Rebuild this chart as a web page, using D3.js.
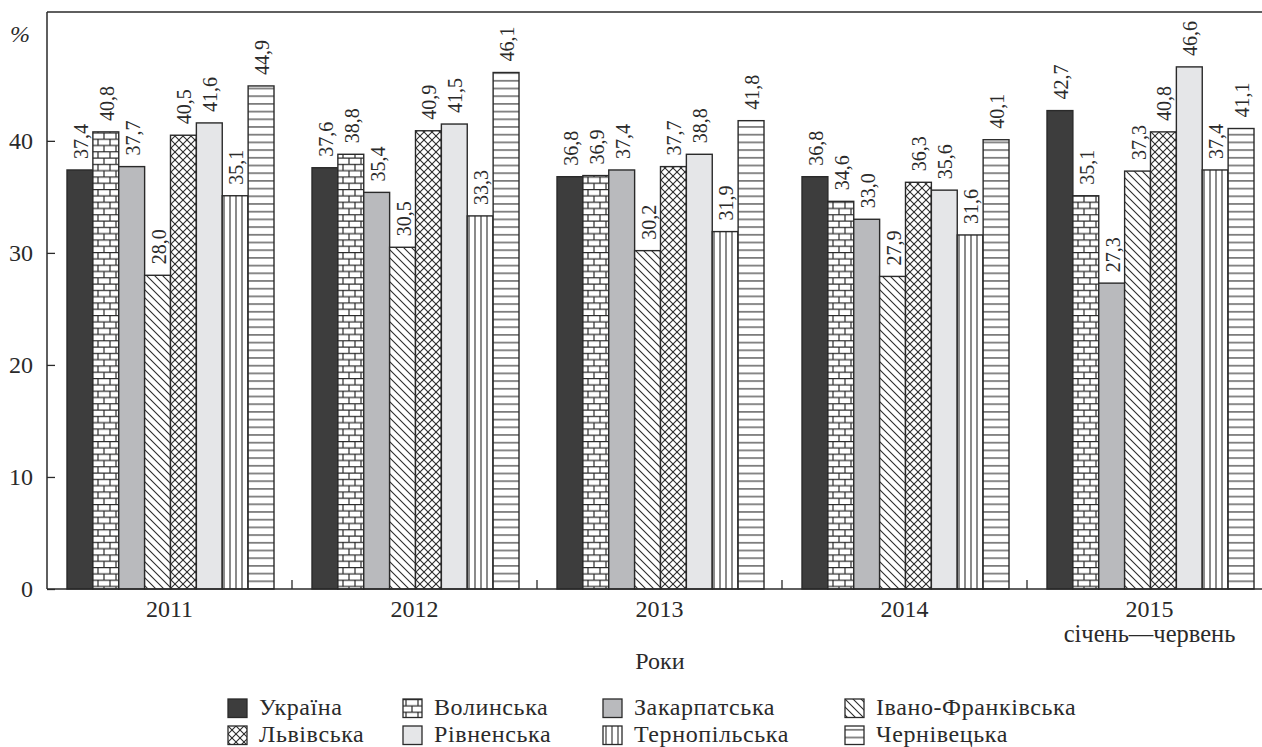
<!DOCTYPE html>
<html>
<head>
<meta charset="utf-8">
<script src="https://cdn.jsdelivr.net/npm/d3@7"></script>
<style>
  html, body { margin: 0; padding: 0; background: #fff; }
  svg { display: block; }
  text { font-family: "Liberation Serif", "Times New Roman", "DejaVu Serif", serif; fill: #2a2a2a; }
</style>
</head>
<body>
<svg id="chart" width="1262" height="747"></svg>
<script>
const years = ["2011", "2012", "2013", "2014", "2015"];
const yearSub = ["", "", "", "", "січень—червень"];
const regions = ["Україна", "Волинська", "Закарпатська", "Івано-Франківська",
                 "Львівська", "Рівненська", "Тернопільська", "Чернівецька"];
const v2011 = [37.4, 40.8, 37.7, 28.0, 40.5, 41.6, 35.1, 44.9];
const v2012 = [37.6, 38.8, 35.4, 30.5, 40.9, 41.5, 33.3, 46.1];
const v2013 = [36.8, 36.9, 37.4, 30.2, 37.7, 38.8, 31.9, 41.8];
const v2014 = [36.8, 34.6, 33.0, 27.9, 36.3, 35.6, 31.6, 40.1];
const v2015 = [42.7, 35.1, 27.3, 37.3, 40.8, 46.6, 37.4, 41.1];
const values = [v2011, v2012, v2013, v2014, v2015];
const yTicks = [0, 10, 20, 30, 40];
const yLabel = "%";
const xLabel = "Роки";

const svg = d3.select("#chart");
const ink = "#2a2a2a";
const mLeft = 47, mTop = 12, mBottom = 589, mRight = 1272;

const y = d3.scaleLinear().domain([0, 51.5]).range([mBottom, mTop]);
const x0 = d3.scaleBand().domain(years).range([mLeft, mRight]).padding(0);
const x1 = d3.scaleBand().domain(regions).range([20, 227]).padding(0);

// patterns
const defs = svg.append("defs");
function pat(id, w, h, draw) {
  const p = defs.append("pattern").attr("id", id).attr("patternUnits", "userSpaceOnUse")
    .attr("width", w).attr("height", h);
  p.append("rect").attr("width", w).attr("height", h).attr("fill", "#fff");
  draw(p);
}
pat("brick", 12, 12.6, p => {
  const g = p.append("g").attr("stroke", ink).attr("stroke-width", 1.2);
  g.append("line").attr("x1", 0).attr("x2", 12).attr("y1", 0.6).attr("y2", 0.6);
  g.append("line").attr("x1", 0).attr("x2", 12).attr("y1", 6.9).attr("y2", 6.9);
  g.append("line").attr("x1", 3).attr("x2", 3).attr("y1", 0.6).attr("y2", 6.9);
  g.append("line").attr("x1", 9).attr("x2", 9).attr("y1", 6.9).attr("y2", 12.6);
});
pat("diag", 8, 8, p => {
  const g = p.append("g").attr("stroke", ink).attr("stroke-width", 1.1);
  g.append("line").attr("x1", 0).attr("y1", 0).attr("x2", 8).attr("y2", 8);
  g.append("line").attr("x1", -4).attr("y1", 4).attr("x2", 4).attr("y2", 12);
  g.append("line").attr("x1", 4).attr("y1", -4).attr("x2", 12).attr("y2", 4);
});
pat("cross", 8, 8, p => {
  const g = p.append("g").attr("stroke", ink).attr("stroke-width", 1.1);
  g.append("line").attr("x1", 0).attr("y1", 0).attr("x2", 8).attr("y2", 8);
  g.append("line").attr("x1", 8).attr("y1", 0).attr("x2", 0).attr("y2", 8);
});
pat("vert", 6, 6, p => {
  p.append("line").attr("x1", 3).attr("x2", 3).attr("y1", 0).attr("y2", 6)
    .attr("stroke", ink).attr("stroke-width", 1.1);
});
pat("horiz", 7.7, 7.7, p => {
  p.append("line").attr("x1", 0).attr("x2", 7.7).attr("y1", 3.8).attr("y2", 3.8)
    .attr("stroke", ink).attr("stroke-width", 1.1);
});

const fills = ["#3d3d3d", "url(#brick)", "#b9babd", "url(#diag)",
               "url(#cross)", "#e5e6e8", "url(#vert)", "url(#horiz)"];
const color = d3.scaleOrdinal().domain(regions).range(fills);

// bars
const groups = svg.append("g").selectAll("g").data(years).join("g")
  .attr("transform", d => `translate(${x0(d)},0)`);

groups.selectAll("rect").data((d, i) => regions.map((r, j) => ({ r, v: values[i][j] })))
  .join("rect")
  .attr("x", d => x1(d.r))
  .attr("y", d => y(d.v))
  .attr("width", x1.bandwidth())
  .attr("height", d => y(0) - y(d.v))
  .attr("fill", d => color(d.r))
  .attr("stroke", ink)
  .attr("stroke-width", 1.4);

groups.selectAll("text.val").data((d, i) => regions.map((r, j) => ({ r, v: values[i][j] })))
  .join("text").attr("class", "val")
  .attr("transform", d => `translate(${x1(d.r) + x1.bandwidth() / 2 + 1},${y(d.v) - 11}) rotate(-90)`)
  .attr("text-anchor", "start")
  .attr("dominant-baseline", "central")
  .attr("font-size", 20)
  .text(d => d.v.toFixed(1).replace(".", ","));

// frame top
svg.append("line").attr("x1", mLeft).attr("x2", 1262).attr("y1", mTop).attr("y2", mTop)
  .attr("stroke", ink).attr("stroke-width", 1.5);

// y axis
const yAxis = d3.axisLeft(y).tickValues(yTicks).tickSize(-8).tickPadding(14).tickFormat(d3.format("d"));
const yg = svg.append("g").attr("transform", `translate(${mLeft},0)`).call(yAxis);
yg.select(".domain").attr("stroke", ink).attr("stroke-width", 1.5).attr("d", `M0,${mTop}V${mBottom}`);
yg.selectAll(".tick line").attr("stroke", ink).attr("stroke-width", 1.3);
yg.selectAll(".tick text").attr("font-size", 24).attr("fill", ink);

// x axis
const xAxis = d3.axisBottom(x0).tickSize(0).tickPadding(11);
const xg = svg.append("g").attr("transform", `translate(0,${mBottom})`).call(xAxis);
xg.select(".domain").attr("stroke", ink).attr("stroke-width", 1.5).attr("d", `M${mLeft},0H${1262}`);
xg.selectAll(".tick text").attr("font-size", 24).attr("fill", ink).attr("dy", "0.71em");
xg.selectAll(".tick").filter((d, i) => yearSub[i]).append("text")
  .attr("y", 36).attr("dy", "0.71em").attr("text-anchor", "middle")
  .attr("font-size", 24.5).attr("fill", ink)
  .text((d) => yearSub[years.indexOf(d)]);

// separator ticks
svg.append("g").selectAll("line").data(years.slice(1)).join("line")
  .attr("x1", d => x0(d)).attr("x2", d => x0(d))
  .attr("y1", mBottom).attr("y2", mBottom - 9)
  .attr("stroke", ink).attr("stroke-width", 1.3);

// axis titles
svg.append("text").attr("x", 20).attr("y", 42).attr("text-anchor", "middle")
  .attr("font-size", 24).attr("font-style", "italic").text(yLabel);
svg.append("text").attr("x", 660).attr("y", 669).attr("text-anchor", "middle")
  .attr("font-size", 24).text(xLabel);

// legend
const colX = [228, 403, 603, 845];
const rowY = [699, 726];
const lg = svg.append("g").selectAll("g").data(regions).join("g")
  .attr("transform", (d, i) => `translate(${colX[i % 4]},${rowY[Math.floor(i / 4)]})`);
lg.append("rect").attr("width", 19).attr("height", 18.5)
  .attr("fill", d => color(d)).attr("stroke", ink).attr("stroke-width", 1.3);
lg.append("text").attr("x", 31).attr("y", 15.5).attr("font-size", 24)
  .attr("letter-spacing", 0.6).text(d => d);
</script>
</body>
</html>
